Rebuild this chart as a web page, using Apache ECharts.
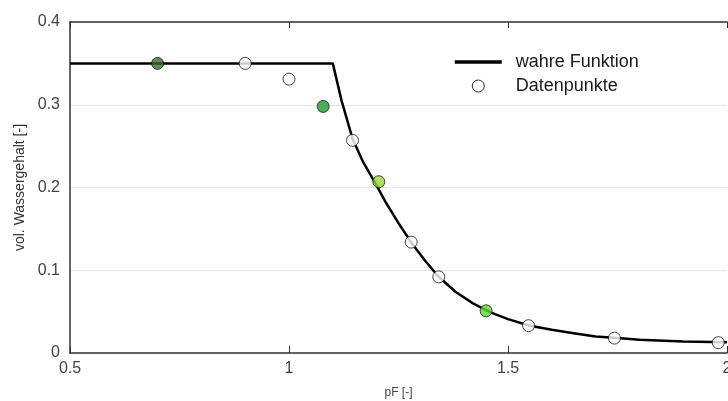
<!DOCTYPE html>
<html>
<head>
<meta charset="utf-8">
<script src="https://cdn.jsdelivr.net/npm/echarts@6/dist/echarts.min.js"></script>
<style>
  html, body { margin: 0; padding: 0; background: #fff; }
  #chart { width: 728px; height: 401px; }
</style>
</head>
<body>
<div id="chart"></div>
<script>
// wahre Funktion
var curvePf = [0.5, 1.1, 1.12, 1.145, 1.17, 1.195, 1.22, 1.25, 1.28, 1.31, 1.34, 1.38, 1.42, 1.46, 1.5, 1.55, 1.6, 1.65, 1.7, 1.75, 1.8, 1.9, 2.0]
var curveTheta = [0.35, 0.35, 0.305, 0.259, 0.23, 0.207, 0.183, 0.157, 0.133, 0.112, 0.093, 0.074, 0.06, 0.049, 0.041, 0.033, 0.028, 0.024, 0.02, 0.018, 0.016, 0.014, 0.013]

// Datenpunkte
var pointPf = [0.7, 0.9, 1.0, 1.078, 1.145, 1.205, 1.279, 1.342, 1.45, 1.547, 1.743, 1.98]
var pointTheta = [0.35, 0.35, 0.331, 0.298, 0.257, 0.207, 0.134, 0.092, 0.051, 0.033, 0.018, 0.0125]

var xTicks = [0.5, 1, 1.5, 2]
var yTicks = [0, 0.1, 0.2, 0.3, 0.4]

// fill colour of each data point
var pointFill = ['#3b6b2a', '#ffffff', '#ffffff', '#1f9a2c', '#ffffff', '#96d631', '#ffffff', '#ffffff', '#62d435', '#ffffff', '#ffffff', '#ffffff']

var chart = echarts.init(document.getElementById('chart'))

var curveData = curvePf.map(function (x, i) { return [x, curveTheta[i]] })
var pointData = pointPf.map(function (x, i) {
  return { value: [x, pointTheta[i]], itemStyle: { color: pointFill[i] } }
})

chart.setOption({
  animation: false,
  textStyle: { fontFamily: 'Liberation Sans, Arial, sans-serif' },
  grid: { left: 70, right: 1, top: 22, bottom: 48, outerBoundsMode: 'none' },
  legend: {
    orient: 'vertical',
    left: 453,
    top: 53,
    padding: 0,
    itemWidth: 47,
    itemHeight: 12,
    itemGap: 6,
    textStyle: { fontSize: 18, color: '#1a1a1a', padding: [0, 0, 0, 9] },
    data: [
      {
        name: 'wahre Funktion',
        itemStyle: { color: 'rgba(0,0,0,0)', borderWidth: 0 },
        lineStyle: { color: '#000', width: 3.5 }
      },
      { name: 'Datenpunkte', icon: 'circle', itemStyle: { color: '#fff', borderColor: '#000', borderWidth: 1 } }
    ]
  },
  xAxis: [{
    type: 'value',
    min: xTicks[0],
    max: xTicks[xTicks.length - 1],
    interval: 0.5,
    name: 'pF [-]',
    nameLocation: 'middle',
    nameGap: 34,
    nameTextStyle: { fontSize: 12, color: '#444' },
    axisLine: { lineStyle: { color: '#333', width: 1.5 } },
    axisTick: { inside: true, length: 7, lineStyle: { color: '#333' } },
    axisLabel: {
      fontSize: 16, color: '#444', margin: 8,
      formatter: function (v) { return String(v) }
    },
    splitLine: { show: false }
  }, {
    type: 'value',
    position: 'top',
    min: xTicks[0],
    max: xTicks[xTicks.length - 1],
    interval: 0.5,
    axisLine: { lineStyle: { color: '#333', width: 1.5 } },
    axisTick: { inside: true, length: 6, lineStyle: { color: '#333' } },
    axisLabel: { show: false },
    splitLine: { show: false }
  }],
  yAxis: {
    type: 'value',
    min: yTicks[0],
    max: yTicks[yTicks.length - 1],
    interval: 0.1,
    name: 'vol. Wassergehalt [-]',
    nameLocation: 'middle',
    nameGap: 43,
    nameTextStyle: { fontSize: 14, color: '#333' },
    axisLine: { show: true, lineStyle: { color: '#333', width: 1.5 } },
    axisTick: { show: false },
    axisLabel: {
      fontSize: 16, color: '#444', margin: 10,
      formatter: function (v) { return v === 0 ? '0' : v.toFixed(1) }
    },
    splitLine: { show: true, lineStyle: { color: '#e8e8e8', width: 1 } }
  },
  series: [{
    name: 'wahre Funktion',
    type: 'line',
    data: curveData,
    symbol: 'none',
    smooth: false,
    lineStyle: { color: '#000', width: 2.5 },
    itemStyle: { color: '#000' },
    z: 2
  }, {
    name: 'Datenpunkte',
    type: 'scatter',
    data: pointData,
    symbol: 'circle',
    symbolSize: 12,
    itemStyle: { borderColor: '#1a1a1a', borderWidth: 1 },
    z: 3
  }]
})
</script>
</body>
</html>
